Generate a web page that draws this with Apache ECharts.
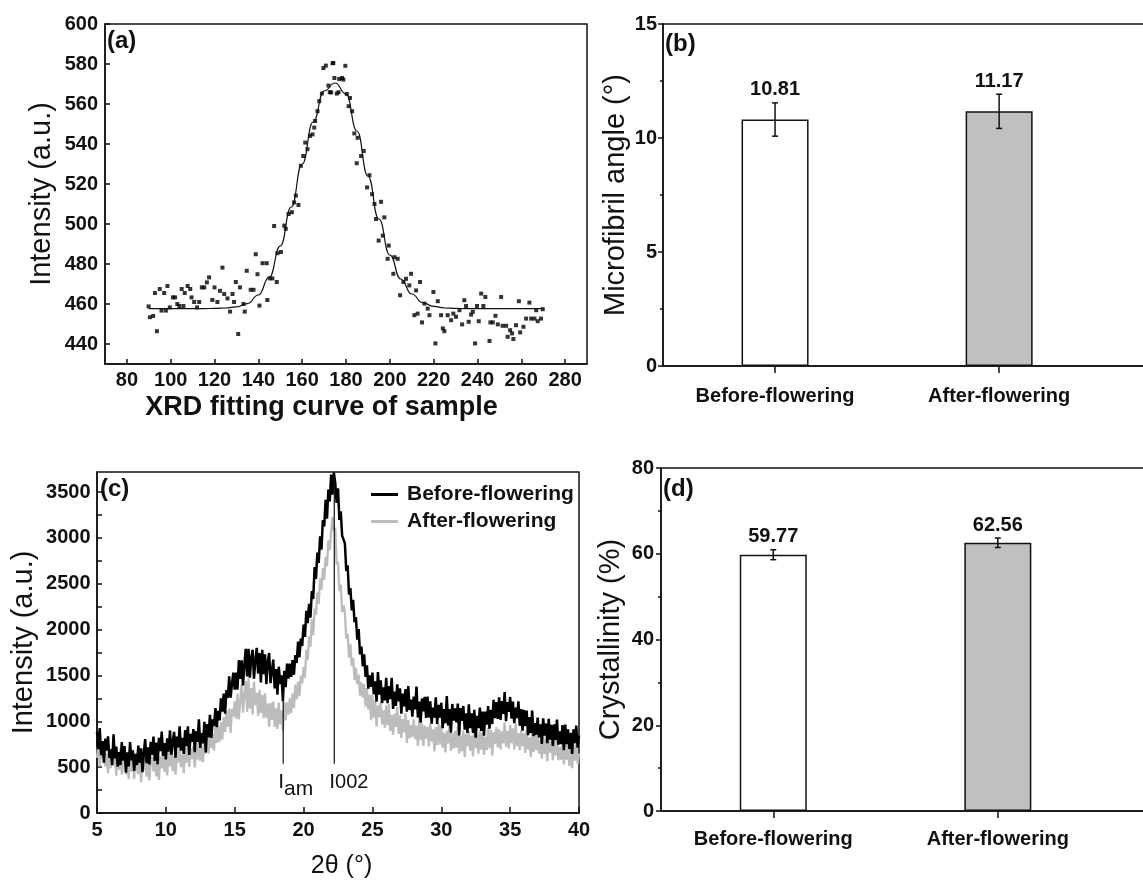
<!DOCTYPE html>
<html>
<head>
<meta charset="utf-8">
<script src="https://cdn.jsdelivr.net/npm/echarts@6/dist/echarts.min.js"></script>
<style>
html, body { margin: 0; padding: 0; background: #fff; }
#chart { width: 1143px; height: 881px; }
</style>
</head>
<body>
<div id="chart"></div>
<script>
// ---- (a) XRD fitting curve: measured points and fitted curve ----
var scatterPoints = [
  [89.9,458.8],[90.5,453.4],[92,454],[92.8,465.5],[93.7,446.4],[95,467.5],[95.8,456.7],[97,465.5],[97.8,456.7],[98.5,469],
  [99.6,458.3],[101,463.3],[102,463.3],[103,460],[103.9,459],[105,467.5],[105.8,459],[106.4,465.5],[107.7,469],[108.9,467.5],
  [109.5,463.3],[110.7,461],[112,458.3],[113,461],[114.2,468.3],[115.3,468.3],[116.5,470.8],[117.5,473.3],[119,462],[120,468.3],
  [121.3,461],[122.5,466.6],[123.6,478.2],[124.4,465],[125.9,462.8],[127.1,456.2],[128.2,465],[128.9,461],[129.7,471],[130.8,445],
  [131.6,468.3],[133.2,460],[133.8,456.2],[134.7,476.6],[136.5,467.1],[137.8,467.1],[138.8,484.9],[139.6,474.9],[140.5,459.2],[141.9,480.4],
  [143.8,480.4],[144.1,462],[145.2,472.8],[146.4,472.8],[147.2,499],[148.4,471],[148.7,485.4],[150.3,486],[151.8,499.2],[152.5,497.6],
  [153.8,505],[155.3,505.9],[156.3,510.8],[157.1,514.2],[158.3,509.5],[159.4,529.1],[160.5,534],[161.4,540.7],[162.4,537.4],[163.5,544],
  [164.7,544.8],[165.5,548.2],[165.9,551.5],[167,556.4],[167.8,561.4],[169,565.2],[169.7,578],[170.8,579.2],[172,569.2],[172.6,565.9],
  [173.2,565.8],[173.9,580.4],[174.2,580.5],[174.7,573],[175.8,565.2],[176.6,565.9],[176.9,572.5],[178.2,573],[178.8,572.2],[179.7,579.1],
  [180.4,565],[181.2,558.9],[181.8,563],[182.8,556.4],[183.8,545.3],[184.9,530.4],[185.3,543.1],[186.9,534],[188.1,536.5],[189.6,518.3],
  [190.7,524.4],[191.9,514.9],[193,510],[193.7,502.5],[194.9,491.7],[196,511.1],[196.8,494.2],[197.5,503.3],[199,482.6],[199.5,489.2],
  [201.6,475.1],[202.1,483.4],[203.6,482.6],[204.7,464.4],[206.2,471],[207.4,472.6],[208.9,469.3],[209.7,475.1],[211.2,454.4],[212,466.8],
  [212.7,455.2],[213.8,471],[214.7,450.8],[215.8,460.2],[217.3,457.7],[218.1,454.4],[219.9,466],[220.8,440.3],[221.9,461.4],[223.4,454.4],
  [224.2,447.8],[224.9,446.4],[226.4,454.4],[228,451.9],[229,455.2],[230.2,453.6],[231.8,456.9],[233,449.8],[234,461.9],[234.8,459],
  [236,451.1],[237.1,454.7],[237.9,456.1],[238.9,440.3],[239.8,459],[240.6,451.4],[241.7,465.2],[242.7,459],[243.6,463.5],[245.5,441.5],
  [245.9,450.8],[247,450.8],[248.2,454.1],[249.3,449.8],[250.8,463.5],[251.5,449.1],[253.1,449.1],[253.8,443.6],[254.9,446.9],[255.8,445.3],
  [256.4,442.5],[257.6,449.4],[258.9,461.4],[259.5,445.8],[261,448.6],[262.2,452.7],[263.7,460.7],[264.5,452.7],[266,452.7],[266.8,456.9],
  [267.5,451.4],[269,452.7],[269.8,457.4]
];
var fitCurve = [
  [90,457.7],[95,457.7],[100,457.7],[105,457.7],[110,457.7],[115,457.7],[120,457.8],[125,458],[130,458.6],[135,460.2],
  [140,464.5],[145,473.5],[150,489],[155,508.5],[160,530],[165,551],[170,566.5],[175,570.5],[180,565],[185,546.5],
  [190,524],[195,502.5],[200,484.5],[205,472.5],[210,465],[215,460.7],[220,458.8],[225,458],[230,457.8],[235,457.7],
  [240,457.7],[245,457.7],[250,457.7],[255,457.7],[260,457.7],[265,457.7],[270,457.7]
];
var fitXTicks = [80,100,120,140,160,180,200,220,240,260,280];
var fitYTicks = [440,460,480,500,520,540,560,580,600];

// ---- (b) and (d) bar groups ----
var groupNames = ['Before-flowering', 'After-flowering'];
var groupPos = [1, 2];
var mfaMeans = [10.81, 11.17];
var mfaErrors = [0.73, 0.75];
var crystMeans = [59.77, 62.56];
var crystErrors = [1.15, 1.1];
var barFills = ['#ffffff', '#c0c0c0'];

// ---- (c) XRD patterns, 2theta from 5 to 40 in steps of 0.1 ----
var xrdStart = 5, xrdStep = 0.1;
var beforeIntensity = [
  885,695,925,630,785,550,810,680,835,600,
  695,522,859,596,723,505,664,523,772,571,
  730,441,662,508,774,575,682,459,641,523,
  735,548,706,444,662,805,543,716,529,777,
  635,834,568,767,531,820,674,888,622,761,
  585,815,670,900,635,775,884,603,832,716,
  945,680,820,645,905,730,944,633,862,776,
  915,664,893,777,1021,710,870,760,995,660,
  970,825,1070,820,1020,950,1145,935,1115,1010,
  1250,1104,1303,1082,1341,1255,1489,1258,1402,1531,
  1345,1532,1344,1666,1463,1665,1392,1614,1791,1488,
  1790,1476,1692,1780,1464,1665,1800,1522,1743,1424,
  1780,1515,1730,1405,1650,1745,1416,1552,1673,1359,
  1570,1290,1595,1405,1500,1220,1551,1372,1628,1464,
  1630,1484,1668,1507,1721,1635,1869,1698,1902,1821,
  2055,1920,2205,2070,2280,2130,2419,2333,2682,2551,
  2840,2726,3017,2873,3194,3125,3414,3208,3527,3396,
  3690,3470,3712,3600,3380,3540,3195,3290,3025,3035,
  2940,2640,2700,2382,2453,2210,2325,2080,2135,1890,
  2005,1730,1815,1600,1730,1485,1610,1355,1500,1375,
  1530,1295,1435,1215,1537,1290,1447,1199,1371,1228,
  1475,1197,1384,1241,1473,1135,1324,1168,1402,1216,
  1360,1084,1303,1162,1351,1105,1384,1123,1237,1051,
  1270,1129,1378,1042,1216,985,1249,1108,1267,1036,
  1270,1041,1217,973,1149,1040,1261,972,1178,1039,
  1200,926,1132,978,1274,955,1133,876,1189,1007,
  1140,987,1194,846,1143,1005,1167,909,1086,873,
  1185,926,1087,873,1124,820,1060,925,1150,895,
  1105,843,1106,964,1167,920,1125,970,1235,1035,
  1210,1025,1260,1015,1220,1080,1318,1001,1209,1102,
  1265,1030,1215,980,1150,1035,1218,951,1134,897,
  1125,948,1116,849,1047,870,1117,839,981,853,
  1040,824,968,752,1031,845,976,762,1028,799,
  960,731,967,798,1019,745,891,752,958,684,
  965,751,912,698,874,645,913,761,954,712,
  845
];
var afterIntensity = [
  600,757,509,711,598,770,507,649,431,678,
  490,709,523,622,406,655,471,707,418,564,
  620,421,567,368,634,450,583,371,654,472,
  425,620,335,560,470,635,397,594,356,553,
  615,453,666,399,552,360,618,486,669,447,
  615,409,668,507,721,455,625,420,665,550,
  720,500,640,435,710,550,766,502,703,589,
  730,496,712,583,844,565,725,555,820,650,
  825,646,887,708,859,680,970,765,950,775,
  990,800,1045,885,1115,940,1140,875,1135,1050,
  1220,1028,1301,1019,1232,1400,1093,1296,1439,1102,
  1470,1138,1361,1074,1432,1175,1311,1057,1343,1089,
  1285,1033,1306,1039,1192,940,1202,1014,1216,938,
  1140,917,1204,966,1118,895,1209,1013,1207,1071,
  1250,1089,1303,1142,1401,1240,1430,1275,1495,1415,
  1590,1475,1780,1665,1925,1810,2115,1940,2230,2160,
  2405,2280,2560,2435,2670,2545,2792,2693,2970,2865,
  3060,3230,3080,3110,2710,2740,2420,2490,2190,2265,
  2190,1900,1955,1697,1845,1602,1690,1450,1585,1405,
  1510,1281,1427,1258,1404,1160,1363,1131,1289,1012,
  1290,1040,1225,945,1175,1045,1215,965,1120,930,
  1175,957,1189,896,1068,850,1082,939,1156,863,
  1065,819,1023,882,1086,765,1014,813,957,831,
  1020,805,950,735,1045,800,975,730,950,810,
  940,727,979,781,913,670,937,739,976,748,
  955,712,874,661,898,760,967,679,871,703,
  895,713,936,649,842,675,898,611,864,727,
  890,680,844,619,933,708,857,647,901,691,
  870,634,832,686,929,708,906,625,883,752,
  935,714,913,692,891,760,989,723,892,701,
  960,761,922,693,974,730,872,684,901,728,
  870,656,907,693,824,610,861,662,913,684,
  845,646,792,593,844,645,806,562,843,659,
  775,576,797,628,834,575,721,582,788,529,
  780,581,742,513,704,490,741,572,763,534,
  650
];
// peak markers: [2theta, lower intensity, upper intensity]
var peakMarkers = [[18.52, 538, 1300], [22.23, 538, 3682]];
var peakLabels = ['{i|I}{s|am}', '{i|I}{n|002}'];
var xrdYLabels = [0,500,1000,1500,2000,2500,3000,3500];
var xrdYTicks = [0,250,500,750,1000,1250,1500,1750,2000,2250,2500,2750,3000,3250,3500];

var FONT = '"Liberation Sans", Arial, sans-serif';
var INK = '#111';

function toPairs(values) {
  return values.map(function (v, i) {
    return [Math.round((xrdStart + i * xrdStep) * 10) / 10, v];
  });
}

function errorData(means, errors) {
  return means.map(function (m, i) { return [groupPos[i], m, errors[i]]; });
}

function barData(means) {
  return means.map(function (m, i) {
    return { value: [groupPos[i], m], itemStyle: { color: barFills[i] } };
  });
}

function renderErrorBar(params, api) {
  var x = api.value(0), mean = api.value(1), err = api.value(2);
  var top = api.coord([x, mean + err]);
  var bot = api.coord([x, mean - err]);
  var st = { stroke: INK, lineWidth: 1.5 };
  return {
    type: 'group',
    children: [
      { type: 'line', shape: { x1: top[0], y1: top[1], x2: bot[0], y2: bot[1] }, style: st },
      { type: 'line', shape: { x1: top[0] - 3, y1: top[1], x2: top[0] + 3, y2: top[1] }, style: st },
      { type: 'line', shape: { x1: bot[0] - 3, y1: bot[1], x2: bot[0] + 3, y2: bot[1] }, style: st },
      { type: 'text', x: top[0], y: top[1] - 3,
        style: { text: mean.toFixed(2), fill: INK, font: 'bold 20px ' + FONT, align: 'center', verticalAlign: 'bottom' } }
    ]
  };
}

function renderMarker(params, api) {
  var x = api.value(0);
  var p0 = api.coord([x, api.value(1)]);
  var p1 = api.coord([x, api.value(2)]);
  return {
    type: 'group',
    children: [
      { type: 'line', shape: { x1: p0[0], y1: p0[1], x2: p1[0], y2: p1[1] }, style: { stroke: INK, lineWidth: 1.2 } },
      { type: 'text', x: p0[0] - 5, y: p0[1] + 8,
        style: {
          text: peakLabels[params.dataIndex], align: 'left', verticalAlign: 'top', fill: INK,
          rich: {
            i: { font: '21px ' + FONT, fill: INK, verticalAlign: 'top' },
            s: { font: '21px ' + FONT, fill: INK, verticalAlign: 'top', padding: [7, 0, 0, 0] },
            n: { font: '20px ' + FONT, fill: INK, verticalAlign: 'top', padding: [1, 0, 0, 0] }
          }
        } }
    ]
  };
}

var lineSt = { color: INK, width: 1.5 };
var tickLabel = { color: INK, fontSize: 20, fontWeight: 'bold', fontFamily: FONT };
var titleSt = { color: INK, fontSize: 29, fontFamily: FONT };
var plainNum = function (v) { return String(v); };

var gridBox = { show: true, borderColor: INK, borderWidth: 1.5, backgroundColor: 'transparent', outerBoundsMode: 'none', containLabel: false };

var chart = echarts.init(document.getElementById('chart'));

var option = {
  animation: false,
  backgroundColor: '#fff',
  textStyle: { fontFamily: FONT },
  grid: [
    Object.assign({ left: 105, top: 24, width: 482, height: 340 }, gridBox),
    Object.assign({ left: 663, top: 24, width: 493, height: 342 }, gridBox),
    Object.assign({ left: 97, top: 472, width: 482, height: 341 }, gridBox),
    Object.assign({ left: 661, top: 468, width: 494, height: 343 }, gridBox)
  ],
  xAxis: [
    { gridIndex: 0, type: 'value', min: 70, max: 290,
      axisLine: { lineStyle: lineSt }, splitLine: { show: false },
      axisTick: { inside: true, length: 5, lineStyle: lineSt, customValues: fitXTicks },
      axisLabel: Object.assign({ margin: 6, customValues: fitXTicks }, tickLabel),
      name: 'XRD fitting curve of sample', nameLocation: 'middle', nameGap: 30,
      nameTextStyle: { color: INK, fontSize: 27, fontWeight: 'bold', fontFamily: FONT, padding: [0, 49, 0, 0] } },
    { gridIndex: 1, type: 'value', min: 0.5, max: 2.7,
      axisLine: { lineStyle: lineSt }, splitLine: { show: false },
      axisTick: { length: 7, lineStyle: lineSt, customValues: groupPos },
      axisLabel: Object.assign({ margin: 20, customValues: groupPos,
        formatter: function (v) { return groupNames[Math.round(v) - 1]; } }, tickLabel) },
    { gridIndex: 2, type: 'value', min: 5, max: 40, interval: 5,
      axisLine: { lineStyle: lineSt }, splitLine: { show: false },
      axisTick: { inside: true, length: 6, lineStyle: lineSt },
      axisLabel: Object.assign({ margin: 7.5 }, tickLabel),
      name: '2θ (°)', nameLocation: 'middle', nameGap: 41,
      nameTextStyle: { color: INK, fontSize: 25, fontFamily: FONT, padding: [0, 0, 0, 7] } },
    { gridIndex: 3, type: 'value', min: 0.5, max: 2.7,
      axisLine: { lineStyle: lineSt }, splitLine: { show: false },
      axisTick: { length: 7, lineStyle: lineSt, customValues: groupPos },
      axisLabel: Object.assign({ margin: 18, customValues: groupPos,
        formatter: function (v) { return groupNames[Math.round(v) - 1]; } }, tickLabel) }
  ],
  yAxis: [
    { gridIndex: 0, type: 'value', min: 430, max: 600,
      axisLine: { show: true, lineStyle: lineSt }, splitLine: { show: false },
      axisTick: { show: true, inside: true, length: 5, lineStyle: lineSt, customValues: fitYTicks },
      axisLabel: Object.assign({ margin: 7, customValues: fitYTicks }, tickLabel),
      name: 'Intensity (a.u.)', nameLocation: 'middle', nameGap: 49, nameTextStyle: titleSt },
    { gridIndex: 1, type: 'value', min: 0, max: 15, interval: 5,
      axisLine: { show: true, lineStyle: lineSt }, splitLine: { show: false },
      axisTick: { show: true, length: 5, lineStyle: lineSt },
      minorTick: { show: true, splitNumber: 2, length: 3, lineStyle: lineSt },
      axisLabel: Object.assign({ margin: 6 }, tickLabel),
      name: 'Microfibril angle (°)', nameLocation: 'middle', nameGap: 32, nameTextStyle: titleSt },
    { gridIndex: 2, type: 'value', min: 0, max: 3718,
      axisLine: { show: true, lineStyle: lineSt }, splitLine: { show: false },
      axisTick: { show: true, inside: true, length: 5, lineStyle: lineSt, customValues: xrdYTicks },
      axisLabel: Object.assign({ margin: 6.5, customValues: xrdYLabels, formatter: plainNum }, tickLabel),
      name: 'Intensity (a.u.)', nameLocation: 'middle', nameGap: 59, nameTextStyle: titleSt },
    { gridIndex: 3, type: 'value', min: 0, max: 80, interval: 20,
      axisLine: { show: true, lineStyle: lineSt }, splitLine: { show: false },
      axisTick: { show: true, length: 5, lineStyle: lineSt },
      minorTick: { show: true, splitNumber: 2, length: 3, lineStyle: lineSt },
      axisLabel: Object.assign({ margin: 7 }, tickLabel),
      name: 'Crystallinity (%)', nameLocation: 'middle', nameGap: 36, nameTextStyle: titleSt }
  ],
  legend: {
    data: ['Before-flowering', 'After-flowering'],
    orient: 'vertical', left: 366, top: 479,
    icon: 'rect', itemWidth: 27, itemHeight: 3, itemGap: 6,
    textStyle: { color: INK, fontSize: 21, fontWeight: 'bold', fontFamily: FONT, padding: [0, 0, 0, 4] }
  },
  graphic: [
    { type: 'text', left: 107, top: 29, style: { text: '(a)', font: 'bold 24px ' + FONT, fill: INK } },
    { type: 'text', left: 665, top: 32, style: { text: '(b)', font: 'bold 24px ' + FONT, fill: INK } },
    { type: 'text', left: 100, top: 477, style: { text: '(c)', font: 'bold 24px ' + FONT, fill: INK } },
    { type: 'text', left: 663, top: 477, style: { text: '(d)', font: 'bold 24px ' + FONT, fill: INK } }
  ],
  series: [
    // (a)
    { type: 'scatter', xAxisIndex: 0, yAxisIndex: 0, data: scatterPoints,
      symbol: 'rect', symbolSize: 4, itemStyle: { color: '#000' } },
    { type: 'line', xAxisIndex: 0, yAxisIndex: 0, data: fitCurve, smooth: 0.5, smoothMonotone: 'x',
      showSymbol: false, lineStyle: { color: INK, width: 1.2 } },
    // (b)
    { type: 'bar', xAxisIndex: 1, yAxisIndex: 1, barWidth: 67, data: barData(mfaMeans),
      itemStyle: { borderColor: INK, borderWidth: 1.5 } },
    { type: 'custom', xAxisIndex: 1, yAxisIndex: 1, data: errorData(mfaMeans, mfaErrors),
      renderItem: renderErrorBar, z: 5 },
    // (c)
    { name: 'After-flowering', type: 'line', xAxisIndex: 2, yAxisIndex: 2, data: toPairs(afterIntensity),
      showSymbol: false, sampling: false, color: '#bcbcbc', lineStyle: { color: '#bcbcbc', width: 2.3 } },
    { name: 'Before-flowering', type: 'line', xAxisIndex: 2, yAxisIndex: 2, data: toPairs(beforeIntensity),
      showSymbol: false, sampling: false, color: '#000', lineStyle: { color: '#000', width: 2.5 } },
    { type: 'custom', xAxisIndex: 2, yAxisIndex: 2, data: peakMarkers, renderItem: renderMarker, z: 5 },
    // (d)
    { type: 'bar', xAxisIndex: 3, yAxisIndex: 3, barWidth: 67, data: barData(crystMeans),
      itemStyle: { borderColor: INK, borderWidth: 1.5 } },
    { type: 'custom', xAxisIndex: 3, yAxisIndex: 3, data: errorData(crystMeans, crystErrors),
      renderItem: renderErrorBar, z: 5 }
  ]
};

chart.setOption(option);
</script>
</body>
</html>
